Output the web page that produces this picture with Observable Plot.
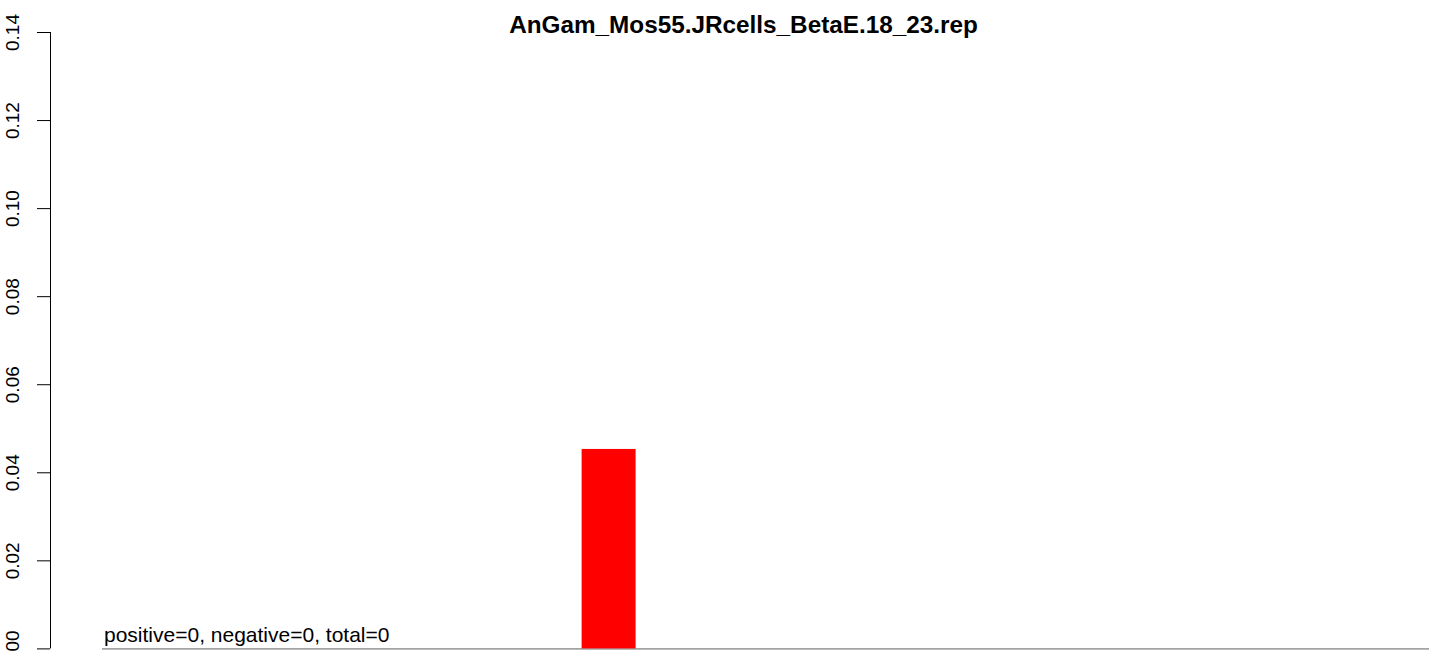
<!DOCTYPE html>
<html>
<head>
<meta charset="utf-8">
<script src="https://cdn.jsdelivr.net/npm/d3@7"></script>
<script src="https://cdn.jsdelivr.net/npm/@observablehq/plot@0.6"></script>
<style>
  html, body { margin: 0; padding: 0; background: #fff; overflow: hidden; }
  #chart { width: 1429px; height: 653px; }
</style>
</head>
<body>
<div id="chart"></div>
<script>
// ---- data ----
const title = "AnGam_Mos55.JRcells_BetaE.18_23.rep";
const bins = ["1","2","3","4","5","6","7","8","9","10","11","12","13","14","15","16","17","18","19","20","21"];
const freqs = [0, 0, 0, 0, 0, 0, 0, 0, 0.0453, 0, 0, 0, 0, 0, 0, 0, 0, 0, 0, 0, 0];
const yTicks = [0, 0.02, 0.04, 0.06, 0.08, 0.10, 0.12, 0.14];
const yTickLabels = ["0.00", "0.02", "0.04", "0.06", "0.08", "0.10", "0.12", "0.14"];
const positive = 0;
const negative = 0;
const total = 0;

// ---- layout (R barplot style: unit-width bars separated by a 0.2 space) ----
const space = 0.2;
const xDomain = [-0.05, 25.5];
const baselineStart = 0.913;
const table = bins.map((b, i) => ({
  bin: b,
  x1: space + i * (1 + space),
  x2: space + i * (1 + space) + 1,
  value: freqs[i]
}));

const font = "'Liberation Sans', Arial, Helvetica, sans-serif";

const chart = Plot.plot({
  width: 1429,
  height: 653,
  marginLeft: 50,
  marginRight: 0,
  marginTop: 32,
  marginBottom: 4.6,
  x: { domain: xDomain, axis: null },
  y: { domain: [0, 0.14], axis: null },
  style: { fontFamily: font, background: "white", color: "black" },
  marks: [
    Plot.ruleY([0], { x1: baselineStart, x2: xDomain[1], stroke: "#a3a3a3", strokeWidth: 1.6 }),
    Plot.rectY(table.filter(d => d.value > 0), { x1: "x1", x2: "x2", y1: 0, y2: "value", fill: "#ff0000", inset: 0 }),
    Plot.ruleX([xDomain[0]], { y1: 0, y2: 0.14, stroke: "black", strokeWidth: 1 }),
    Plot.axisY({ ticks: yTicks, tickSize: 13, tickFormat: () => "", stroke: "black", strokeWidth: 1, label: null }),
    Plot.text(yTicks, {
      y: d => d,
      text: (d, i) => yTickLabels[i],
      frameAnchor: "left",
      rotate: -90,
      textAnchor: "middle",
      dx: -37.8,
      fontSize: 19,
      fill: "black"
    }),
    Plot.text([`positive=${positive}, negative=${negative}, total=${total}`], {
      frameAnchor: "bottom-left",
      textAnchor: "start",
      dx: 53.5,
      dy: -6.7,
      fontSize: 21,
      fill: "black"
    }),
    Plot.text([title], {
      frameAnchor: "top",
      dx: 3.5,
      dy: -16.8,
      fontSize: 24.3,
      fontWeight: "bold",
      fill: "black"
    })
  ]
});

document.getElementById("chart").appendChild(chart);
</script>
</body>
</html>
